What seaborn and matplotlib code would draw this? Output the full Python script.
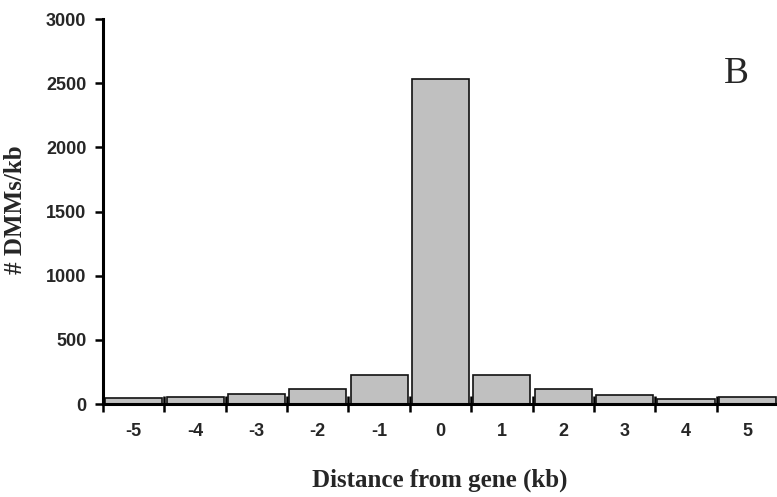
import matplotlib
matplotlib.use("Agg")
import matplotlib.pyplot as plt
import seaborn as sns
import pandas as pd
import numpy as np

# Density of DMMs around genes, binned by distance in kb
distance_kb = ["-5", "-4", "-3", "-2", "-1", "0", "1", "2", "3", "4", "5"]
dmms_per_kb = [50, 55, 80, 115, 225, 2530, 225, 120, 70, 40, 55]
y_ticks = [0, 500, 1000, 1500, 2000, 2500, 3000]

df = pd.DataFrame({"distance": distance_kb, "density": dmms_per_kb})

sns.set_style("white")
plt.rcParams["font.family"] = ["Liberation Serif", "DejaVu Serif"]

fig = plt.figure(figsize=(7.77, 4.97), dpi=100)
ax = fig.add_axes([0.1326, 0.1871, 0.8687, 0.7746])

sns.barplot(data=df, x="distance", y="density", order=distance_kb,
            color="#C0C0C0", saturation=1, edgecolor="#111111",
            linewidth=1.2, width=0.93, ax=ax)

ax.set_xlim(-0.5, len(distance_kb) - 0.5)
ax.set_ylim(0, 3000)

# Tick marks sit on bin boundaries, labels at bin centres
ax.set_xticks(np.arange(-0.5, len(distance_kb), 1.0))
ax.set_xticklabels([])
ax.set_xticks(np.arange(len(distance_kb)), minor=True)
ax.set_xticklabels(distance_kb, minor=True, family="Liberation Sans",
                   fontweight="bold", fontsize=13)
ax.tick_params(axis="x", which="major", direction="inout", length=12,
               width=1.8, color="black", bottom=True)
ax.tick_params(axis="x", which="minor", length=0, pad=14)

ax.set_yticks(y_ticks)
ax.set_yticklabels([str(v) for v in y_ticks], family="Liberation Sans",
                   fontweight="bold", fontsize=13)
ax.tick_params(axis="y", which="major", direction="out", length=6,
               width=1.8, color="black", left=True, pad=6)

for side in ("top", "right"):
    ax.spines[side].set_visible(False)
for side in ("left", "bottom"):
    ax.spines[side].set_color("black")
    ax.spines[side].set_linewidth(2.2)
    ax.spines[side].set_zorder(5)

ax.set_xlabel("Distance from gene (kb)", fontweight="bold", fontsize=18)
ax.xaxis.set_label_coords(0.499, -0.168)
ax.set_ylabel("# DMMs/kb", fontweight="bold", fontsize=18)
ax.yaxis.set_label_coords(-0.1126, 0.505)

ax.text(0.939, 0.858, "B", transform=ax.transAxes, fontsize=27,
        ha="center", va="center")

fig.savefig("out.png", dpi=100)
